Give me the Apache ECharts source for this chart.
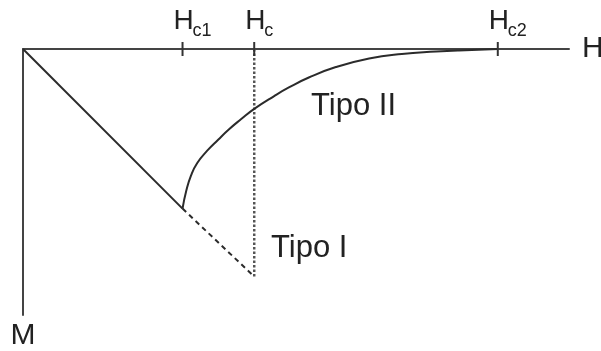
<!DOCTYPE html>
<html>
<head>
<meta charset="utf-8">
<script src="https://cdn.jsdelivr.net/npm/echarts@6/dist/echarts.min.js"></script>
<style>
  html, body { margin: 0; padding: 0; background: #fff; }
  #chart { width: 601px; height: 351px; }
</style>
</head>
<body>
<div id="chart"></div>
<script>
// Critical fields marked on the H axis, with their subscripts
const criticalFields = [3.36, 4.87, 10];
const criticalSubs = ['c1', 'c', 'c2'];

// Meissner state (M = -H) up to Hc1
const meissnerH = [0, 3.36];
const meissnerM = [0, -3.36];

// Type I continuation up to Hc
const type1H = [3.36, 4.87];
const type1M = [-3.36, -4.79];

// Vertical drop at Hc
const hcLineH = [4.87, 4.87];
const hcLineM = [0, -4.79];

// Type II mixed state between Hc1 and Hc2
const type2H = [3.36, 3.44, 3.54, 3.67, 3.88, 4.11, 4.34, 4.59, 4.87, 5.29, 5.60, 6.02, 6.59, 7.29, 7.98, 8.70, 9.18, 10.0];
const type2M = [-3.36, -2.98, -2.66, -2.40, -2.14, -1.91, -1.69, -1.48, -1.26, -0.99, -0.81, -0.60, -0.38, -0.20, -0.105, -0.055, -0.03, 0];

const zip = (xs, ys) => xs.map((x, i) => [x, ys[i]]);
const family = "'Liberation Sans', Arial, Helvetica, sans-serif";
const ink = '#222';
const stroke = '#2b2b2b';

const chart = echarts.init(document.getElementById('chart'), null, { renderer: 'canvas' });

const option = {
  animation: false,
  backgroundColor: '#fff',
  grid: { left: 23, right: 32, top: 49, bottom: 36, containLabel: false, outerBoundsMode: 'none' },
  xAxis: {
    type: 'value', min: 0, max: 11.5, position: 'top',
    axisLine: { show: true, onZero: true, lineStyle: { color: '#444', width: 2 } },
    axisTick: { show: false }, axisLabel: { show: false }, splitLine: { show: false },
    name: 'H', nameLocation: 'end', nameGap: 13,
    nameTextStyle: { fontSize: 30, color: ink, fontFamily: family }
  },
  yAxis: {
    type: 'value', min: -5.6, max: 0,
    axisLine: { show: true, onZero: false, lineStyle: { color: '#444', width: 2 } },
    axisTick: { show: false }, axisLabel: { show: false }, splitLine: { show: false },
    name: 'M', nameLocation: 'start', nameGap: 6,
    nameTextStyle: { fontSize: 30, color: ink, fontFamily: family }
  },
  graphic: [
    { type: 'text', x: 311, y: 106, style: { text: 'Tipo II', font: '31px ' + family, fill: ink, verticalAlign: 'middle', textVerticalAlign: 'middle' } },
    { type: 'text', x: 271, y: 248, style: { text: 'Tipo I', font: '31px ' + family, fill: ink, verticalAlign: 'middle', textVerticalAlign: 'middle' } }
  ],
  series: [
    {
      type: 'line', data: zip(meissnerH, meissnerM), symbol: 'none',
      lineStyle: { color: stroke, width: 2 }
    },
    {
      type: 'line', data: zip(type1H, type1M), symbol: 'none',
      lineStyle: { color: stroke, width: 2, type: [5, 4] }
    },
    {
      type: 'line', data: zip(hcLineH, hcLineM), symbol: 'none',
      lineStyle: { color: '#555', width: 2.5, type: [2.5, 2] }
    },
    {
      type: 'line', data: zip(type2H, type2M), symbol: 'none', smooth: 0.5,
      lineStyle: { color: stroke, width: 2 }
    },
    {
      // tick marks and H-subscript labels at the critical fields
      type: 'custom', clip: false, z: 5,
      data: criticalFields.map((h, i) => [h, 0, i]),
      renderItem: function (params, api) {
        const p = api.coord([api.value(0), 0]);
        const sub = criticalSubs[api.value(2)];
        return {
          type: 'group',
          children: [
            { type: 'line', shape: { x1: p[0], y1: p[1] - 7, x2: p[0], y2: p[1] + 7 }, style: { stroke: '#333', lineWidth: 2 } },
            { type: 'text', x: p[0] - 9, y: p[1] - 28, style: { text: 'H', font: '28px ' + family, fill: ink, verticalAlign: 'middle', textVerticalAlign: 'middle' } },
            { type: 'text', x: p[0] + 10, y: p[1] - 18, style: { text: sub, font: '18px ' + family, fill: ink, verticalAlign: 'middle', textVerticalAlign: 'middle' } }
          ]
        };
      }
    }
  ]
};

chart.setOption(option);
</script>
</body>
</html>
